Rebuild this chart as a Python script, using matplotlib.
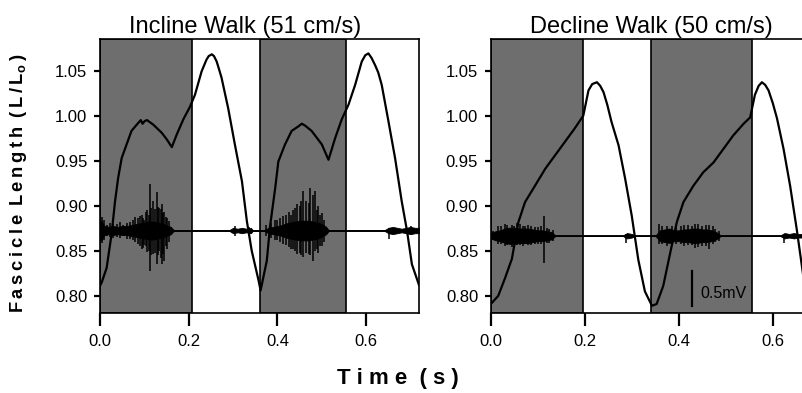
import numpy as np
import matplotlib.pyplot as plt

plt.rcParams['font.family'] = ['Liberation Sans', 'DejaVu Sans']

# ---- Incline walk (51 cm/s) ----
inc_t = [0.000, 0.004, 0.015, 0.026, 0.034, 0.041, 0.049, 0.060, 0.071, 0.083, 0.092,
         0.096, 0.101, 0.106, 0.120, 0.139, 0.150, 0.162, 0.173, 0.188, 0.203, 0.214,
         0.229, 0.240, 0.245, 0.252, 0.257, 0.263, 0.268, 0.274, 0.289, 0.304, 0.320,
         0.331, 0.342, 0.357, 0.362, 0.376, 0.383, 0.395, 0.402, 0.417, 0.432, 0.447,
         0.455, 0.462, 0.477, 0.500, 0.515, 0.530, 0.545, 0.560, 0.575, 0.590, 0.598,
         0.605, 0.612, 0.620, 0.627, 0.635, 0.650, 0.665, 0.680, 0.692, 0.703, 0.719]
inc_len = [0.811, 0.815, 0.831, 0.868, 0.905, 0.931, 0.953, 0.968, 0.983, 0.990, 0.995,
           0.991, 0.994, 0.995, 0.990, 0.981, 0.974, 0.965, 0.979, 0.996, 1.010, 1.023,
           1.049, 1.062, 1.066, 1.068, 1.066, 1.060, 1.052, 1.042, 1.008, 0.968, 0.927,
           0.883, 0.850, 0.818, 0.806, 0.839, 0.876, 0.920, 0.949, 0.968, 0.983, 0.988,
           0.991, 0.989, 0.983, 0.968, 0.951, 0.975, 0.996, 1.012, 1.034, 1.060, 1.067,
           1.069, 1.064, 1.056, 1.048, 1.034, 0.994, 0.953, 0.905, 0.872, 0.835, 0.812]
inc_stance = [(0.0, 0.208), (0.361, 0.554)]

# EMG (plotted on the same axis, offset to its baseline)
inc_emg_base = 0.8725
inc_env_t = [0.000, 0.004, 0.010, 0.020, 0.030, 0.040, 0.050, 0.060, 0.070, 0.080, 0.090,
             0.100, 0.110, 0.120, 0.130, 0.140, 0.150, 0.160, 0.167,
             0.290, 0.300, 0.310, 0.320, 0.330, 0.340, 0.345,
             0.368, 0.380, 0.390, 0.400, 0.410, 0.420, 0.430, 0.440, 0.450, 0.460, 0.470,
             0.480, 0.490, 0.500, 0.510, 0.516,
             0.640, 0.650, 0.660, 0.670, 0.680, 0.690, 0.700, 0.710, 0.719]
inc_env_hw = [0.011, 0.010, 0.005, 0.004, 0.005, 0.004, 0.005, 0.005, 0.006, 0.007, 0.008,
              0.009, 0.010, 0.010, 0.009, 0.008, 0.006, 0.004, 0.000,
              0.000, 0.003, 0.002, 0.003, 0.002, 0.003, 0.000,
              0.000, 0.003, 0.004, 0.005, 0.006, 0.008, 0.009, 0.010, 0.011, 0.011, 0.011,
              0.010, 0.009, 0.007, 0.004, 0.000,
              0.000, 0.003, 0.004, 0.003, 0.002, 0.003, 0.004, 0.003, 0.003]
inc_spk_t = [0.004, 0.008, 0.015, 0.022, 0.030, 0.038, 0.045, 0.052, 0.060, 0.068, 0.075,
             0.080, 0.085, 0.090, 0.094, 0.097, 0.100, 0.104, 0.107, 0.110, 0.113, 0.116,
             0.120, 0.124, 0.128, 0.131, 0.134, 0.137, 0.139, 0.142, 0.145, 0.148, 0.152,
             0.156, 0.305, 0.335,
             0.375, 0.385, 0.395, 0.400, 0.405, 0.412, 0.420, 0.425, 0.430, 0.435, 0.440,
             0.445, 0.450, 0.453, 0.458, 0.465, 0.470, 0.474, 0.480, 0.485, 0.488, 0.492,
             0.496, 0.500, 0.505, 0.651, 0.700]
inc_spk_lo = [0.859, 0.862, 0.866, 0.865, 0.864, 0.865, 0.864, 0.866, 0.863, 0.863, 0.862,
              0.860, 0.858, 0.855, 0.852, 0.853, 0.856, 0.855, 0.849, 0.850, 0.828, 0.845,
              0.846, 0.848, 0.835, 0.845, 0.850, 0.842, 0.835, 0.846, 0.839, 0.855, 0.852,
              0.860, 0.866, 0.866,
              0.866, 0.864, 0.862, 0.862, 0.860, 0.857, 0.856, 0.854, 0.852, 0.852, 0.850,
              0.846, 0.848, 0.845, 0.843, 0.848, 0.846, 0.845, 0.839, 0.850, 0.852, 0.848,
              0.855, 0.855, 0.860, 0.863, 0.867]
inc_spk_hi = [0.887, 0.884, 0.879, 0.881, 0.880, 0.880, 0.882, 0.879, 0.881, 0.882, 0.884,
              0.887, 0.886, 0.889, 0.890, 0.886, 0.884, 0.893, 0.895, 0.890, 0.924, 0.898,
              0.905, 0.896, 0.915, 0.899, 0.898, 0.896, 0.902, 0.892, 0.893, 0.888, 0.886,
              0.883, 0.877, 0.876,
              0.879, 0.881, 0.884, 0.884, 0.886, 0.889, 0.890, 0.893, 0.890, 0.895, 0.897,
              0.902, 0.900, 0.905, 0.916, 0.905, 0.903, 0.920, 0.912, 0.916, 0.895, 0.900,
              0.890, 0.892, 0.884, 0.875, 0.878]

# ---- Decline walk (50 cm/s) ----
dec_t = [0.000, 0.002, 0.016, 0.030, 0.045, 0.059, 0.073, 0.094, 0.116, 0.137, 0.158,
         0.179, 0.197, 0.208, 0.216, 0.226, 0.233, 0.240, 0.248, 0.257, 0.272, 0.286,
         0.300, 0.314, 0.328, 0.343, 0.353, 0.367, 0.382, 0.396, 0.410, 0.431, 0.452,
         0.474, 0.495, 0.516, 0.538, 0.552, 0.562, 0.570, 0.577, 0.584, 0.591, 0.600,
         0.609, 0.623, 0.637, 0.651, 0.665, 0.672]
dec_len = [0.791, 0.792, 0.800, 0.819, 0.841, 0.882, 0.904, 0.922, 0.941, 0.956, 0.971,
           0.986, 1.000, 1.028, 1.035, 1.037, 1.033, 1.026, 1.012, 0.993, 0.967, 0.930,
           0.889, 0.840, 0.805, 0.789, 0.791, 0.811, 0.848, 0.882, 0.904, 0.922, 0.937,
           0.948, 0.963, 0.978, 0.991, 0.998, 1.023, 1.033, 1.037, 1.034, 1.028, 1.014,
           0.997, 0.963, 0.922, 0.874, 0.822, 0.800]
dec_stance = [(0.0, 0.197), (0.342, 0.555)]

dec_emg_base = 0.8667
dec_env_t = [0.000, 0.010, 0.020, 0.030, 0.040, 0.050, 0.060, 0.070, 0.080, 0.090, 0.100,
             0.110, 0.120, 0.130, 0.138,
             0.280, 0.290, 0.300, 0.310,
             0.350, 0.360, 0.370, 0.380, 0.390, 0.400, 0.410, 0.420, 0.430, 0.440, 0.450,
             0.460, 0.470, 0.480, 0.490,
             0.615, 0.625, 0.635, 0.645, 0.655, 0.672]
dec_env_hw = [0.003, 0.005, 0.006, 0.008, 0.009, 0.009, 0.008, 0.008, 0.008, 0.007, 0.006,
              0.006, 0.005, 0.004, 0.000,
              0.000, 0.003, 0.002, 0.000,
              0.000, 0.006, 0.007, 0.008, 0.006, 0.006, 0.007, 0.007, 0.008, 0.008, 0.007,
              0.007, 0.006, 0.004, 0.000,
              0.000, 0.003, 0.002, 0.003, 0.002, 0.002]
dec_spk_t = [0.005, 0.015, 0.022, 0.030, 0.035, 0.045, 0.050, 0.055, 0.062, 0.068, 0.074,
             0.080, 0.086, 0.095, 0.100, 0.106, 0.114, 0.120, 0.125, 0.132, 0.288,
             0.357, 0.365, 0.375, 0.385, 0.395, 0.405, 0.412, 0.420, 0.428, 0.435, 0.442,
             0.450, 0.458, 0.465, 0.472, 0.478, 0.485, 0.623]
dec_spk_lo = [0.862, 0.857, 0.858, 0.855, 0.856, 0.854, 0.855, 0.856, 0.856, 0.855, 0.857,
              0.856, 0.856, 0.857, 0.858, 0.857, 0.837, 0.859, 0.859, 0.861, 0.859,
              0.858, 0.857, 0.855, 0.856, 0.857, 0.857, 0.855, 0.856, 0.856, 0.853, 0.854,
              0.855, 0.855, 0.852, 0.857, 0.860, 0.861, 0.859]
dec_spk_hi = [0.872, 0.877, 0.877, 0.880, 0.879, 0.879, 0.878, 0.881, 0.880, 0.878, 0.877,
              0.879, 0.878, 0.876, 0.876, 0.877, 0.889, 0.875, 0.874, 0.873, 0.869,
              0.880, 0.878, 0.878, 0.877, 0.876, 0.877, 0.879, 0.879, 0.878, 0.880, 0.880,
              0.878, 0.879, 0.879, 0.877, 0.874, 0.872, 0.869]

y_ticks = [0.80, 0.85, 0.90, 0.95, 1.00, 1.05]
x_ticks = [0.0, 0.2, 0.4, 0.6]

# 0.5 mV scale bar (drawn in the decline panel)
bar_t = 0.428
bar_lo, bar_hi = 0.789, 0.828

GRAY = '#6e6e6e'

fig = plt.figure(figsize=(8.03, 3.93), dpi=100)
ax1 = fig.add_axes([0.1245, 0.2036, 0.3973, 0.6972])
ax2 = fig.add_axes([0.6111, 0.2036, 0.3922, 0.6972])


def draw_panel(ax, title, title_x, t, length, stance, base, env_t, env_hw,
               spk_t, spk_lo, spk_hi, xmax):
    for t0, t1 in stance:
        ax.axvspan(t0, t1, facecolor=GRAY, edgecolor='black', lw=1.2, zorder=0)
    env_t = np.asarray(env_t)
    env_hw = np.asarray(env_hw)
    ax.axhline(base, color='black', lw=1.3, zorder=2)
    ax.fill_between(env_t, base - env_hw, base + env_hw, color='black',
                    lw=0.6, zorder=2)
    ax.vlines(spk_t, spk_lo, spk_hi, color='black', lw=1.1, zorder=2)
    ax.plot(t, length, color='black', lw=1.6, zorder=3)

    ax.set_xlim(0, xmax)
    ax.set_ylim(0.781, 1.085)
    ax.set_xticks(x_ticks)
    ax.set_xticklabels([f'{v:.1f}' for v in x_ticks])
    ax.set_yticks(y_ticks)
    ax.set_yticklabels([f'{v:.2f}' for v in y_ticks])
    ax.tick_params(axis='x', length=9, width=1.6, pad=6, labelsize=12)
    ax.tick_params(axis='y', length=4, width=1.6, pad=5, labelsize=12)
    for sp in ax.spines.values():
        sp.set_linewidth(1.2)
    ax.set_title(title, fontsize=17, pad=4, x=title_x)


draw_panel(ax1, 'Incline Walk (51 cm/s)', 0.455, inc_t, inc_len, inc_stance,
           inc_emg_base, inc_env_t, inc_env_hw, inc_spk_t, inc_spk_lo, inc_spk_hi, 0.719)
draw_panel(ax2, 'Decline Walk (50 cm/s)', 0.511, dec_t, dec_len, dec_stance,
           dec_emg_base, dec_env_t, dec_env_hw, dec_spk_t, dec_spk_lo, dec_spk_hi, 0.670)

ax2.plot([bar_t, bar_t], [bar_lo, bar_hi], color='black', lw=1.6, zorder=4)
ax2.text(bar_t + 0.017, (bar_lo + bar_hi) / 2 - 0.006, '0.5mV', fontsize=11.5,
         ha='left', va='center', zorder=4)

fig.text(0.0225, 0.534, 'F\u2009a\u2009s\u2009c\u2009i\u2009c\u2009l\u2009e\u2009 L\u2009e\u2009n\u2009g\u2009t\u2009h\u2009 (\u2009L\u2009/\u2009L$_\\mathregular{o}$\u2009)',
         rotation=90, ha='center', va='center', fontsize=13.2, fontweight='bold')
fig.text(0.496, 0.038, 'T i m e  ( s )', ha='center', va='center',
         fontsize=16, fontweight='bold')

fig.savefig('out.png', dpi=100)
